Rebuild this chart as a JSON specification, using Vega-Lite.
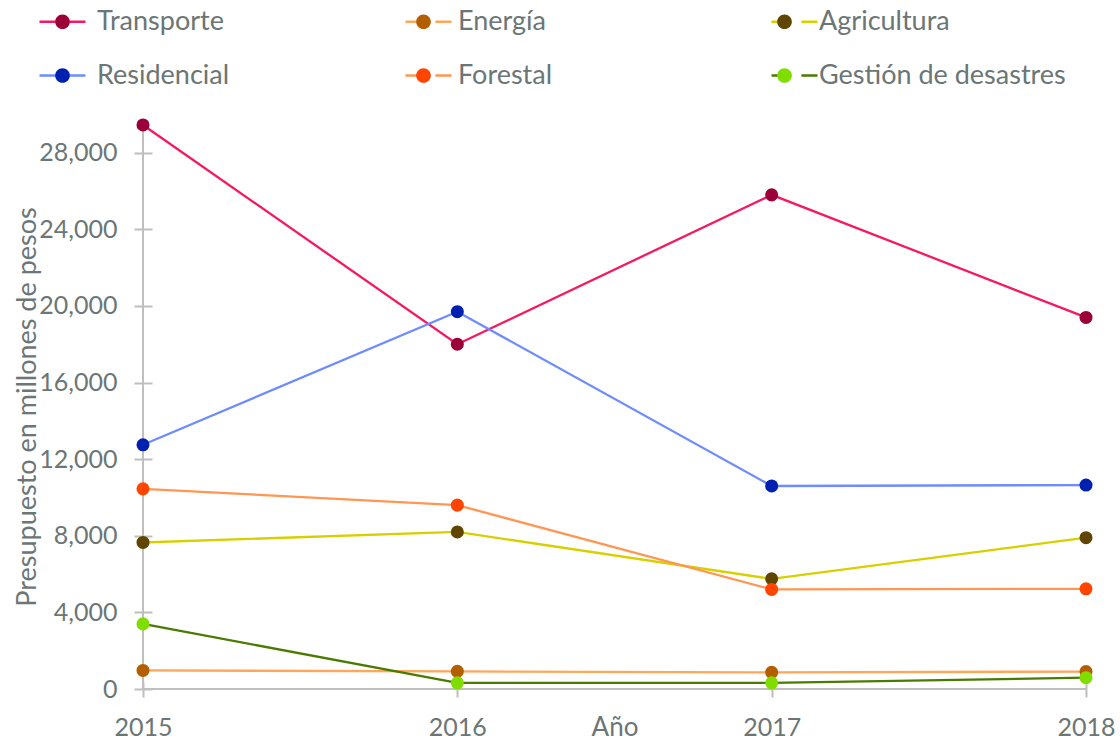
{
  "$schema": "https://vega.github.io/schema/vega-lite/v6.json",
  "width": 943,
  "height": 565,
  "autosize": {"type": "none"},
  "padding": {"left": 143, "top": 124, "right": 34, "bottom": 53},
  "background": "white",
  "config": {
    "view": {"stroke": null},
    "font": "Lato",
    "axis": {"grid": false}
  },
  "data": {
    "values": [
      {"serie": "Transporte", "orden": 1, "anio": 2015, "valor": 29450},
      {"serie": "Transporte", "orden": 1, "anio": 2016, "valor": 18000},
      {"serie": "Transporte", "orden": 1, "anio": 2017, "valor": 25800},
      {"serie": "Transporte", "orden": 1, "anio": 2018, "valor": 19400},
      {"serie": "Energía", "orden": 2, "anio": 2015, "valor": 970},
      {"serie": "Energía", "orden": 2, "anio": 2016, "valor": 920},
      {"serie": "Energía", "orden": 2, "anio": 2017, "valor": 870},
      {"serie": "Energía", "orden": 2, "anio": 2018, "valor": 910},
      {"serie": "Agricultura", "orden": 3, "anio": 2015, "valor": 7650},
      {"serie": "Agricultura", "orden": 3, "anio": 2016, "valor": 8200},
      {"serie": "Agricultura", "orden": 3, "anio": 2017, "valor": 5750},
      {"serie": "Agricultura", "orden": 3, "anio": 2018, "valor": 7900},
      {"serie": "Residencial", "orden": 4, "anio": 2015, "valor": 12750},
      {"serie": "Residencial", "orden": 4, "anio": 2016, "valor": 19700},
      {"serie": "Residencial", "orden": 4, "anio": 2017, "valor": 10600},
      {"serie": "Residencial", "orden": 4, "anio": 2018, "valor": 10650},
      {"serie": "Forestal", "orden": 5, "anio": 2015, "valor": 10450},
      {"serie": "Forestal", "orden": 5, "anio": 2016, "valor": 9600},
      {"serie": "Forestal", "orden": 5, "anio": 2017, "valor": 5200},
      {"serie": "Forestal", "orden": 5, "anio": 2018, "valor": 5230},
      {"serie": "Gestión de desastres", "orden": 6, "anio": 2015, "valor": 3400},
      {"serie": "Gestión de desastres", "orden": 6, "anio": 2016, "valor": 320},
      {"serie": "Gestión de desastres", "orden": 6, "anio": 2017, "valor": 320},
      {"serie": "Gestión de desastres", "orden": 6, "anio": 2018, "valor": 590}
    ]
  },
  "encoding": {
    "x": {
      "field": "anio",
      "type": "quantitative",
      "scale": {"domain": [2015, 2018], "nice": false, "zero": false},
      "axis": {
        "title": "Año",
        "values": [2015, 2015.5, 2016, 2016.5, 2017, 2017.5, 2018],
        "labelExpr": "datum.value % 1 === 0 ? datum.value : ''",
        "format": "d",
        "domain": false,
        "offset": -7,
        "tickSize": 15,
        "tickWidth": 2,
        "tickColor": "#bfbfbf",
        "labelPadding": 18,
        "labelFontSize": 25,
        "labelColor": "#6b7675",
        "labelFont": "Lato",
        "labelFlush": false,
        "labelOverlap": false,
        "titleFontSize": 26,
        "titleFont": "Lato",
        "titleFontWeight": "normal",
        "titleColor": "#6b7675",
        "titleY": 53,
        "titleBaseline": "alphabetic"
      }
    },
    "y": {
      "field": "valor",
      "type": "quantitative",
      "scale": {"domain": [0, 29500], "nice": false},
      "axis": {
        "title": "Presupuesto en millones de pesos",
        "values": [0, 4000, 8000, 12000, 16000, 20000, 24000, 28000],
        "format": ",.0f",
        "domain": false,
        "offset": -9,
        "tickSize": 18,
        "tickWidth": 2,
        "tickColor": "#bfbfbf",
        "labelPadding": 17,
        "labelFontSize": 25,
        "labelColor": "#6b7675",
        "labelFont": "Lato",
        "titleFontSize": 27,
        "titleFont": "Lato",
        "titleFontWeight": "normal",
        "titleColor": "#6b7675",
        "titleX": -117,
        "titleY": 282.5,
        "titleBaseline": "alphabetic",
        "titleAngle": -90
      }
    }
  },
  "layer": [
    {
      "mark": {"type": "rule", "color": "#bfbfbf", "strokeWidth": 2},
      "encoding": {"y": {"datum": 0}, "x": null}
    },
    {
      "mark": {"type": "rule", "color": "#bfbfbf", "strokeWidth": 2},
      "encoding": {"x": {"datum": 2015}, "y": null}
    },
    {
      "mark": {"type": "line", "strokeWidth": 2.3},
      "encoding": {
        "stroke": {
          "field": "serie",
          "type": "nominal",
          "sort": {"field": "orden", "op": "min"},
          "scale": {"range": ["#f5195f", "#ffa65a", "#d6d000", "#6e8cff", "#ff9652", "#4a7a00"]},
          "legend": {
            "title": null,
            "orient": "none",
            "direction": "horizontal",
            "legendX": -105,
            "legendY": -127,
            "columns": 3,
            "gridAlign": "all",
            "columnPadding": 303,
            "rowPadding": 16,
            "padding": 0,
            "symbolType": "M-1,0H-0.3M0.3,0H1",
            "symbolSize": 2116,
            "symbolStrokeWidth": 2.5,
            "labelOffset": 10,
            "labelFontSize": 27,
            "labelFont": "Lato",
            "labelExpr": "''",
            "labelLimit": 400
          }
        }
      }
    },
    {
      "mark": {"type": "point", "filled": true, "size": 170, "opacity": 1, "shape": "circle"},
      "encoding": {
        "fill": {
          "field": "serie",
          "type": "nominal",
          "scale": {
            "domain": ["Transporte", "Energía", "Agricultura", "Residencial", "Forestal", "Gestión de desastres"],
            "range": ["#9b0039", "#b35f00", "#5f4500", "#0020b0", "#ff4500", "#80dd00"]
          },
          "legend": {
            "title": null,
            "orient": "none",
            "direction": "horizontal",
            "legendX": -105,
            "legendY": -127,
            "columns": 3,
            "gridAlign": "all",
            "columnPadding": 55,
            "rowPadding": 16,
            "padding": 0,
            "symbolType": "M0.32,0A0.32,0.32,0,1,1,-0.32,0A0.32,0.32,0,1,1,0.32,0Z",
            "symbolSize": 2116,
            "symbolStrokeWidth": 2.5,
            "symbolStrokeColor": "transparent",
            "symbolOpacity": 1,
            "labelOffset": 10,
            "labelFontSize": 27,
            "labelFont": "Lato",
            "labelColor": "#6b7675",
            "labelLimit": 400
          }
        }
      }
    }
  ]
}
